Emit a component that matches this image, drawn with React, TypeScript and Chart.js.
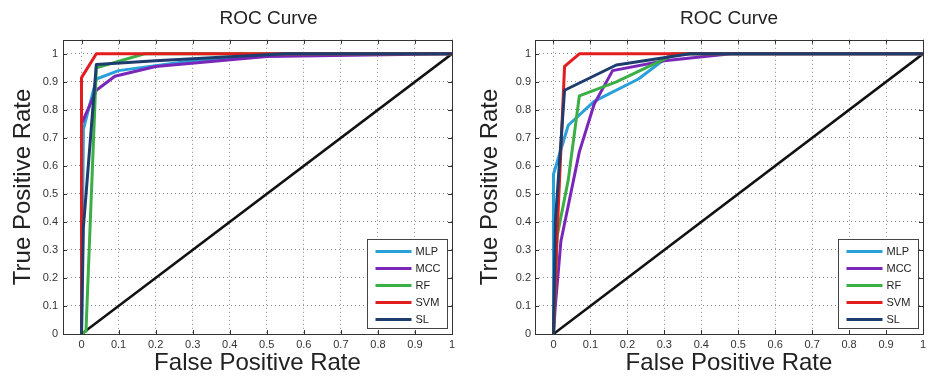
import React, { useEffect, useRef } from "react";
import { Chart, registerables } from "chart.js";

Chart.register(...registerables);

type Pt = [number, number];

const seriesNames = ["MLP", "MCC", "RF", "SVM", "SL"];
const seriesColors = ["#2aa0da", "#7a26b8", "#3bae46", "#e31d1d", "#1c3d6d"];
const diagonalColor = "#111111";

const xTickValues = [0, 0.1, 0.2, 0.3, 0.4, 0.5, 0.6, 0.7, 0.8, 0.9, 1];
const yTickValues = [0, 0.1, 0.2, 0.3, 0.4, 0.5, 0.6, 0.7, 0.8, 0.9, 1];

const chartTitle = "ROC Curve";
const xAxisTitle = "False Positive Rate";
const yAxisTitle = "True Positive Rate";

// Left panel
const leftMLP: Pt[] = [[0, 0], [0.005, 0.73], [0.04, 0.91], [0.1, 0.94], [0.3, 0.975], [0.55, 1], [1, 1]];
const leftMCC: Pt[] = [[0, 0], [0, 0.75], [0.04, 0.87], [0.09, 0.92], [0.2, 0.955], [0.5, 0.99], [1, 1]];
const leftRF: Pt[] = [[0, 0], [0.012, 0.01], [0.04, 0.95], [0.17, 1], [1, 1]];
const leftSVM: Pt[] = [[0, 0], [0, 0.915], [0.04, 1], [1, 1]];
const leftSL: Pt[] = [[0, 0], [0.005, 0.38], [0.04, 0.962], [0.2, 0.975], [0.55, 1], [1, 1]];

// Right panel
const rightMLP: Pt[] = [[0, 0], [0, 0.57], [0.04, 0.745], [0.11, 0.83], [0.23, 0.91], [0.32, 1], [1, 1]];
const rightMCC: Pt[] = [[0, 0], [0.005, 0.1], [0.02, 0.33], [0.07, 0.65], [0.11, 0.82], [0.16, 0.94], [0.3, 0.975], [0.48, 1], [1, 1]];
const rightRF: Pt[] = [[0, 0], [0.01, 0.35], [0.04, 0.55], [0.07, 0.85], [0.17, 0.9], [0.33, 1], [1, 1]];
const rightSVM: Pt[] = [[0, 0], [0.008, 0.3], [0.03, 0.955], [0.07, 1], [1, 1]];
const rightSL: Pt[] = [[0, 0], [0.005, 0.4], [0.03, 0.87], [0.17, 0.96], [0.37, 1], [1, 1]];

const diagonal: Pt[] = [[0, 0], [1, 1]];

const leftSeries = [leftMLP, leftMCC, leftRF, leftSVM, leftSL];
const rightSeries = [rightMLP, rightMCC, rightRF, rightSVM, rightSL];

const FONT = "'Liberation Sans', Arial, Helvetica, sans-serif";

type PanelCfg = {
  series: Pt[][];
  axisWidth: number;
  padRight: number;
  yTitlePad: number;
  tickPad: number;
  titleShift: number;
};

const leftCfg: PanelCfg = { series: leftSeries, axisWidth: 63, padRight: 14, yTitlePad: 9, tickPad: 5, titleShift: 11 };
const rightCfg: PanelCfg = { series: rightSeries, axisWidth: 69, padRight: 9, yTitlePad: 10, tickPad: 4, titleShift: 0 };

const framePlugin = {
  id: "matlabFrame",
  afterLayout(chart: any) {
    const shift = chart.options.plugins.matlabFrame?.titleShift || 0;
    if (chart.titleBlock && shift) {
      chart.titleBlock.left += shift;
      chart.titleBlock.right += shift;
    }
  },
  afterDraw(chart: any) {
    const ctx = chart.ctx;
    const a = chart.chartArea;
    const xs = chart.scales.x;
    const ys = chart.scales.y;
    ctx.save();
    // inward tick marks
    ctx.strokeStyle = "#333";
    ctx.lineWidth = 1;
    const tl = 4;
    ctx.beginPath();
    xTickValues.forEach((v) => {
      const px = Math.round(xs.getPixelForValue(v)) + 0.5;
      ctx.moveTo(px, a.bottom);
      ctx.lineTo(px, a.bottom - tl);
      ctx.moveTo(px, a.top);
      ctx.lineTo(px, a.top + tl);
    });
    yTickValues.forEach((v) => {
      const py = Math.round(ys.getPixelForValue(v)) + 0.5;
      ctx.moveTo(a.left, py);
      ctx.lineTo(a.left + tl, py);
      ctx.moveTo(a.right, py);
      ctx.lineTo(a.right - tl, py);
    });
    ctx.stroke();
    // frame
    ctx.strokeStyle = "#333";
    ctx.strokeRect(Math.round(a.left) + 0.5, Math.round(a.top) + 0.5, Math.round(a.right - a.left), Math.round(a.bottom - a.top));

    // legend box
    const bw = 80;
    const bh = 89;
    const bx = Math.round(a.right - 5 - bw) + 0.5;
    const by = Math.round(a.bottom - 6 - bh) + 0.5;
    ctx.fillStyle = "#ffffff";
    ctx.fillRect(bx, by, bw, bh);
    ctx.strokeStyle = "#444";
    ctx.strokeRect(bx, by, bw, bh);
    ctx.font = `11px ${FONT}`;
    ctx.textBaseline = "middle";
    ctx.textAlign = "left";
    seriesNames.forEach((name, i) => {
      const yy = by + 12 + i * 17;
      ctx.strokeStyle = seriesColors[i];
      ctx.lineWidth = 3;
      ctx.beginPath();
      ctx.moveTo(bx + 8, yy);
      ctx.lineTo(bx + 44, yy);
      ctx.stroke();
      ctx.fillStyle = "#222";
      ctx.fillText(name, bx + 48, yy + 0.5);
    });
    ctx.restore();
  },
};

function Panel({ cfg }: { cfg: PanelCfg }) {
  const ref = useRef<HTMLCanvasElement | null>(null);
  useEffect(() => {
    if (!ref.current) return;
    const drawOrder = [4, 3, 2, 1, 0];
    const datasets: any[] = cfg.series.map((pts, i) => ({
      label: seriesNames[i],
      data: pts.map(([x, y]) => ({ x, y })),
      borderColor: seriesColors[i],
      backgroundColor: seriesColors[i],
      borderWidth: 3,
      showLine: true,
      pointRadius: 0,
      tension: 0,
      borderJoinStyle: "round",
      borderCapStyle: "round",
      order: drawOrder[i],
    }));
    datasets.push({
      label: "diagonal",
      data: diagonal.map(([x, y]) => ({ x, y })),
      borderColor: diagonalColor,
      backgroundColor: diagonalColor,
      borderWidth: 2.5,
      showLine: true,
      pointRadius: 0,
      order: 5,
    });
    const tickFont = { family: FONT, size: 11 };
    const chart = new Chart(ref.current, {
      type: "scatter",
      data: { datasets },
      plugins: [framePlugin],
      options: {
        animation: false,
        responsive: false,
        events: [],
        layout: { padding: { left: 0, right: cfg.padRight, top: 0, bottom: 0 } },
        plugins: {
          legend: { display: false },
          tooltip: { enabled: false },
          title: {
            display: true,
            text: chartTitle,
            fullSize: false,
            color: "#222",
            font: { family: FONT, size: 19, weight: "normal" },
            padding: { top: 7, bottom: 10 },
          },
          matlabFrame: { titleShift: cfg.titleShift },
        } as any,
        scales: {
          x: {
            type: "linear",
            min: -0.05,
            max: 1,
            afterBuildTicks: (axis: any) => {
              axis.ticks = xTickValues.map((v) => ({ value: v }));
            },
            afterFit: (scale: any) => {
              scale.height = 47;
            },
            ticks: {
              font: tickFont,
              color: "#333",
              padding: 4,
              maxRotation: 0,
              autoSkip: false,
              callback: (v: any) => String(Number(v)),
            },
            grid: { color: "#8a8a8a", lineWidth: 1, drawTicks: false },
            border: { display: false, dash: [1, 3] },
            title: {
              display: true,
              text: xAxisTitle,
              color: "#222",
              font: { family: FONT, size: 24 },
              padding: { top: 0, bottom: 3 },
            },
          },
          y: {
            type: "linear",
            min: 0,
            max: 1.05,
            afterBuildTicks: (axis: any) => {
              axis.ticks = yTickValues.map((v) => ({ value: v }));
            },
            afterFit: (scale: any) => {
              scale.width = cfg.axisWidth;
            },
            ticks: {
              font: tickFont,
              color: "#333",
              padding: cfg.tickPad,
              autoSkip: false,
              callback: (v: any) => String(Number(v)),
            },
            grid: { color: "#8a8a8a", lineWidth: 1, drawTicks: false },
            border: { display: false, dash: [1, 3] },
            title: {
              display: true,
              text: yAxisTitle,
              color: "#222",
              font: { family: FONT, size: 24 },
              padding: { top: cfg.yTitlePad, bottom: 0 },
            },
          },
        },
      } as any,
    });
    return () => chart.destroy();
  }, [cfg]);
  return <canvas ref={ref} width={466} height={381} style={{ display: "block", width: 466, height: 381 }} />;
}

export default function App() {
  return (
    <div
      style={{
        position: "fixed",
        left: 0,
        top: 0,
        width: 932,
        height: 381,
        background: "#ffffff",
        display: "flex",
        flexDirection: "row",
      }}
    >
      <Panel cfg={leftCfg} />
      <Panel cfg={rightCfg} />
    </div>
  );
}
